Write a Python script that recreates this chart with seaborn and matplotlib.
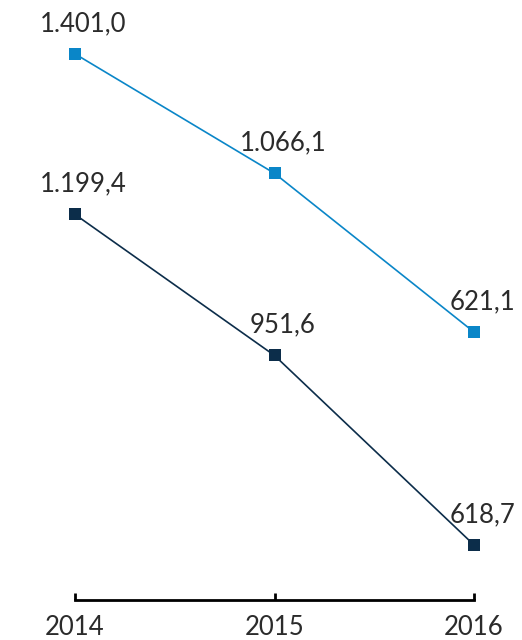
import pandas as pd
import matplotlib.pyplot as plt
import seaborn as sns

# ==============================
# Data
# ==============================
years = [2014, 2015, 2016]
serie_a = [1401.0, 1066.1, 621.1]   # light blue
serie_b = [1199.4, 951.6, 618.7]    # dark navy
labels_a = ["1.401,0", "1.066,1", "621,1"]
labels_b = ["1.199,4", "951,6", "618,7"]

BLUE = "#0a86c8"
NAVY = "#0c2d4a"
TEXT = "#2b2b2b"

df_a = pd.DataFrame({"year": years, "value": serie_a})
df_b = pd.DataFrame({"year": years, "value": serie_b})

sns.set_style("white")
plt.rcParams["font.family"] = ["Lato", "DejaVu Sans"]

fig = plt.figure(figsize=(5.22, 6.4), dpi=100)
ax = fig.add_axes([75 / 522, 40 / 640, 399 / 522, 580 / 640])
ax2 = ax.twinx()

# ==============================
# Lines
# ==============================
sns.lineplot(data=df_a, x="year", y="value", ax=ax, color=BLUE, lw=1.2,
             marker="s", markersize=8, markeredgewidth=0, clip_on=False)
sns.lineplot(data=df_b, x="year", y="value", ax=ax2, color=NAVY, lw=1.2,
             marker="s", markersize=8, markeredgewidth=0, clip_on=False)

ax.set_xlim(2014, 2016)
ax.set_ylim(-130, 1496)
ax2.set_ylim(522, 1541)

for x, y, t in zip(years, serie_a, labels_a):
    ax.annotate(t, (x, y), xytext=(6, 13), textcoords="offset points",
                ha="center", va="bottom", fontsize=18.5, color=TEXT,
                annotation_clip=False)
for x, y, t in zip(years, serie_b, labels_b):
    ax2.annotate(t, (x, y), xytext=(6, 13), textcoords="offset points",
                 ha="center", va="bottom", fontsize=18.5, color=TEXT,
                 annotation_clip=False)

# ==============================
# Axes styling
# ==============================
for a in (ax, ax2):
    for s in ("top", "right", "left"):
        a.spines[s].set_visible(False)
    a.set_xlabel("")
    a.set_ylabel("")
ax2.spines["bottom"].set_visible(False)
ax2.set_yticks([])
ax.set_yticks([])
ax.spines["bottom"].set_color("black")
ax.spines["bottom"].set_linewidth(2)
ax.set_xticks(years)
ax.set_xticklabels([str(y) for y in years])
ax.tick_params(axis="x", bottom=True, direction="in", length=5, width=2,
               color="black", labelsize=18.5, labelcolor=TEXT, pad=11)
for t in ax.xaxis.get_major_ticks():
    t.tick1line.set_clip_on(False)

fig.savefig("out.png", dpi=100)
